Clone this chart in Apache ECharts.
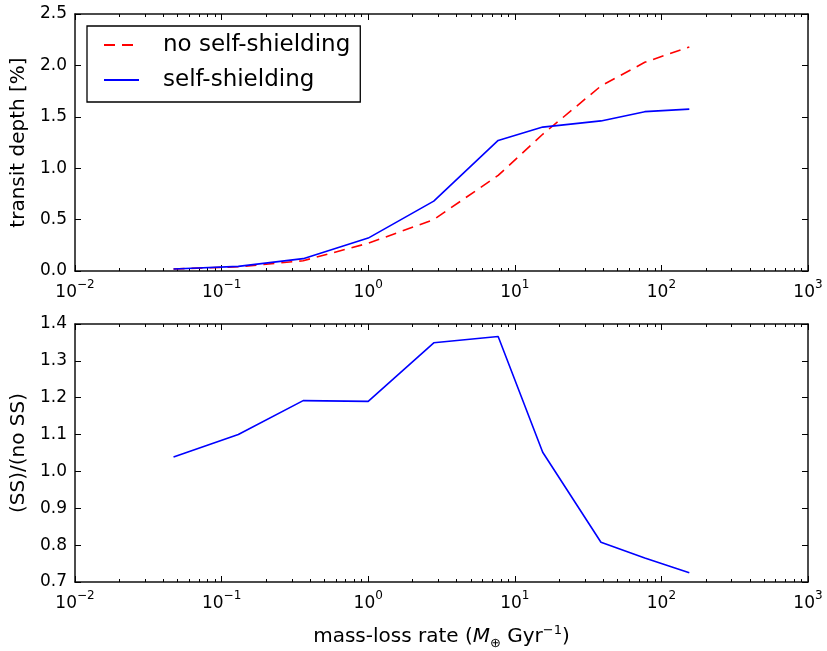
<!DOCTYPE html>
<html>
<head>
<meta charset="utf-8">
<script src="https://cdn.jsdelivr.net/npm/echarts@6/dist/echarts.min.js"></script>
<style>
  html, body { margin: 0; padding: 0; background: #fff; }
  #chart { width: 827px; height: 651px; }
</style>
</head>
<body>
<div id="chart"></div>
<script>
// mass-loss rate (M_earth / Gyr)
const massLoss = [0.047, 0.13, 0.36, 1.0, 2.8, 7.7, 15.5, 38.7, 77, 155];
// transit depth [%]
const depthNoSS = [0.019, 0.041, 0.10, 0.27, 0.50, 0.93, 1.33, 1.80, 2.03, 2.18];
const depthSS = [0.02, 0.045, 0.12, 0.32, 0.68, 1.27, 1.40, 1.46, 1.55, 1.575];
// (SS)/(no SS)
const ratio = [1.039, 1.10, 1.192, 1.19, 1.349, 1.366, 1.052, 0.808, 0.765, 0.725];

const seriesNames = ['no self-shielding', 'self-shielding'];

// minor tick positions of the log axis (2..9 x 10^k)
const minorTicks = [];
for (let k = -2; k < 3; k++) {
  for (let m = 2; m < 10; m++) minorTicks.push(m * Math.pow(10, k));
}

const font = 'DejaVu Sans';
const black = '#000';

function pairs(xs, ys) {
  return xs.map((x, i) => [x, ys[i]]);
}

function logLabel(v) {
  const e = Math.round(Math.log10(v));
  return '{b|10}{s|' + (e < 0 ? '\u2212' + (-e) : e) + '}';
}

function xAxisOf(grid, pos, withLabels) {
  return {
    type: 'log', gridIndex: grid, position: pos, min: 0.01, max: 1000, logBase: 10,
    axisLine: { show: true, onZero: false, lineStyle: { color: '#111', width: 1.5 } },
    axisTick: { show: true, inside: true, length: 6, lineStyle: { color: black, width: 1 } },
    splitLine: { show: false },
    axisLabel: {
      show: withLabels, margin: 8, formatter: logLabel, color: black,
      rich: {
        b: { fontFamily: font, fontSize: 17, color: black, lineHeight: 22, verticalAlign: 'bottom' },
        s: { fontFamily: font, fontSize: 12, color: black, lineHeight: 22, verticalAlign: 'top' }
      }
    }
  };
}

function yAxisOf(grid, pos, lo, hi, step, withLabels, name) {
  return {
    type: 'value', gridIndex: grid, position: pos, min: lo, max: hi, interval: step,
    name: name || '', nameLocation: 'middle', nameGap: 45,
    nameTextStyle: { fontFamily: font, fontSize: 20, color: black },
    axisLine: { show: true, onZero: false, lineStyle: { color: '#111', width: 1.5 } },
    axisTick: { show: true, inside: true, length: 6, lineStyle: { color: black, width: 1 } },
    splitLine: { show: false },
    axisLabel: {
      show: withLabels, margin: 8, color: black, fontFamily: font, fontSize: 17,
      formatter: v => v.toFixed(1)
    }
  };
}

function minorTickSeries(axisIdx, yLo) {
  return {
    type: 'custom', xAxisIndex: axisIdx, yAxisIndex: axisIdx, silent: true, clip: false,
    data: minorTicks.map(v => [v, yLo]),
    renderItem: function (params, api) {
      const cs = params.coordSys;
      const x = Math.round(api.coord([api.value(0), api.value(1)])[0]) + 0.5;
      const st = { stroke: black, lineWidth: 1 };
      return {
        type: 'group',
        children: [
          { type: 'line', shape: { x1: x, y1: cs.y + cs.height, x2: x, y2: cs.y + cs.height - 3 }, style: st },
          { type: 'line', shape: { x1: x, y1: cs.y, x2: x, y2: cs.y + 3 }, style: st }
        ]
      };
    }
  };
}

const chart = echarts.init(document.getElementById('chart'), null, { renderer: 'canvas' });

const bottomX = xAxisOf(1, 'bottom', true);
bottomX.name = '{n|mass-loss rate (}{m|M}{o|\u2295}{n| Gyr}{e|\u22121}{n|)}';
bottomX.nameLocation = 'middle';
bottomX.nameGap = 42;
bottomX.nameTextStyle = {
  color: black,
  rich: {
    n: { fontFamily: font, fontSize: 20, color: black, lineHeight: 26, verticalAlign: 'middle' },
    m: { fontFamily: font, fontSize: 20, fontStyle: 'italic', color: black, lineHeight: 26, verticalAlign: 'middle' },
    o: { fontFamily: font, fontSize: 13, color: black, lineHeight: 26, verticalAlign: 'bottom' },
    e: { fontFamily: font, fontSize: 13, color: black, lineHeight: 26, verticalAlign: 'top' }
  }
};

chart.setOption({
  animation: false,
  backgroundColor: '#fff',
  grid: [
    { left: 75, right: 19, top: 14, height: 257 },
    { left: 75, right: 19, top: 324, height: 258 }
  ],
  xAxis: [
    xAxisOf(0, 'bottom', true),
    xAxisOf(0, 'top', false),
    bottomX,
    xAxisOf(1, 'top', false)
  ],
  yAxis: [
    yAxisOf(0, 'left', 0, 2.5, 0.5, true, 'transit depth [%]'),
    yAxisOf(0, 'right', 0, 2.5, 0.5, false),
    yAxisOf(1, 'left', 0.7, 1.4, 0.1, true, '(SS)/(no SS)'),
    yAxisOf(1, 'right', 0.7, 1.4, 0.1, false)
  ],
  legend: {
    data: seriesNames,
    orient: 'vertical',
    left: 87, top: 26,
    padding: [7, 10, 10, 16],
    itemWidth: 35, itemHeight: 14, itemGap: 11,
    itemStyle: { opacity: 0 },
    backgroundColor: '#fff',
    borderColor: black, borderWidth: 1.3, borderRadius: 0,
    textStyle: { fontFamily: font, fontSize: 23, color: black, lineHeight: 24, padding: [0, 0, 0, 19] }
  },
  series: [
    {
      name: seriesNames[0], type: 'line', xAxisIndex: 0, yAxisIndex: 0,
      data: pairs(massLoss, depthNoSS), showSymbol: false, symbol: 'none', legendIcon: 'none',
      lineStyle: { color: '#ff0000', width: 1.6, type: [11, 7] }, itemStyle: { color: '#ff0000' }, z: 3
    },
    {
      name: seriesNames[1], type: 'line', xAxisIndex: 0, yAxisIndex: 0,
      data: pairs(massLoss, depthSS), showSymbol: false, symbol: 'none', legendIcon: 'none',
      lineStyle: { color: '#0000ff', width: 1.6 }, itemStyle: { color: '#0000ff' }, z: 3
    },
    {
      name: 'ratio', type: 'line', xAxisIndex: 2, yAxisIndex: 2,
      data: pairs(massLoss, ratio), showSymbol: false, symbol: 'none',
      lineStyle: { color: '#0000ff', width: 1.6 }, itemStyle: { color: '#0000ff' }, z: 3
    },
    minorTickSeries(0, 0),
    minorTickSeries(2, 0.7)
  ]
});
</script>
</body>
</html>
